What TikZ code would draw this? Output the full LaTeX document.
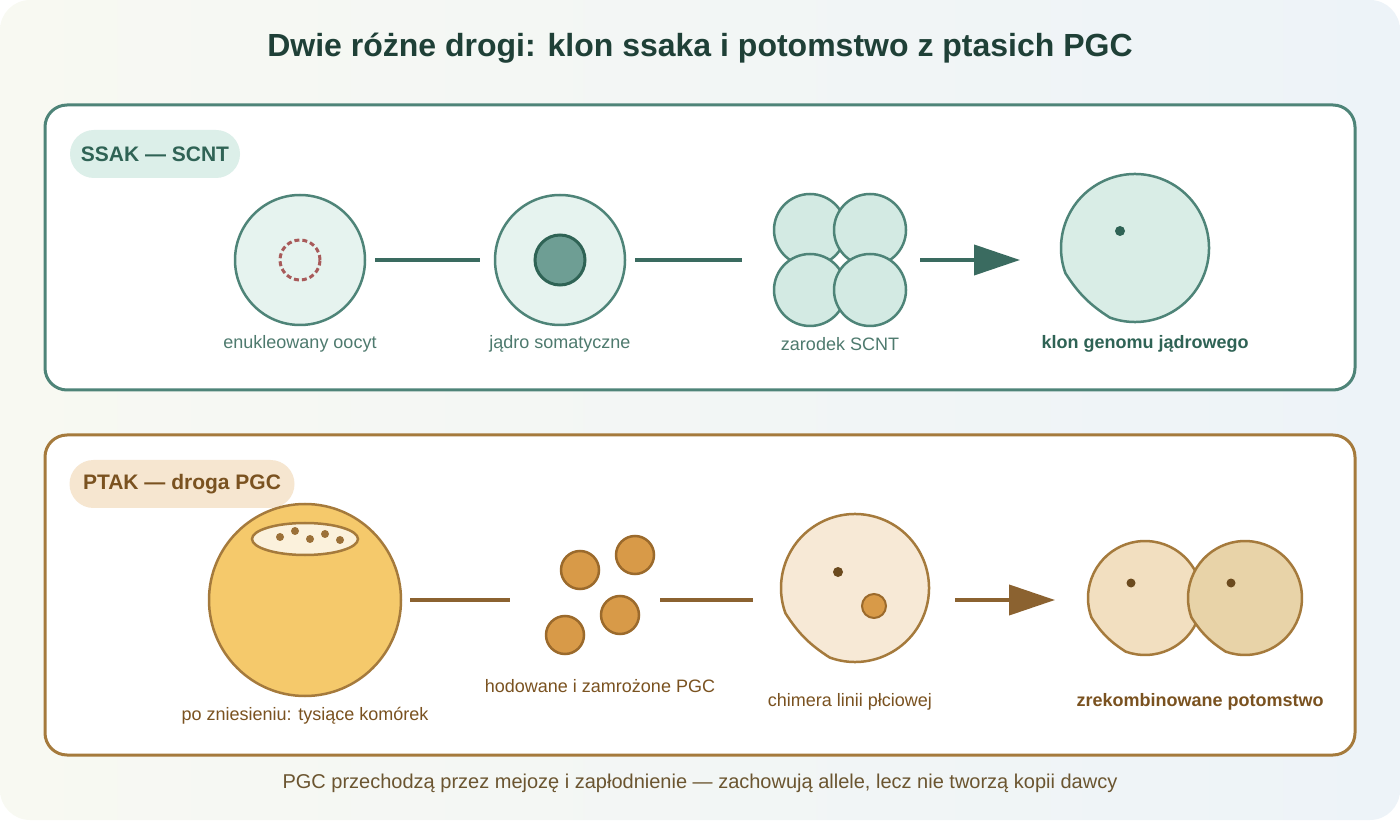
\documentclass[tikz,border=0pt]{standalone}
\usepackage{fontspec}
\setmainfont{Liberation Sans}
\usetikzlibrary{arrows.meta}
\definecolor{gstroke}{HTML}{4E8478}
\definecolor{gdark}{HTML}{2F6355}
\definecolor{gline}{HTML}{3A6B60}
\definecolor{bstroke}{HTML}{A57A3C}
\definecolor{bdark}{HTML}{7A5220}
\definecolor{bline}{HTML}{8B6230}
\definecolor{titlec}{HTML}{1F4037}
\definecolor{bgl}{HTML}{F8F9F2}
\definecolor{bgr}{HTML}{EDF3F8}
\definecolor{gpill}{HTML}{DCEFE9}
\definecolor{gfill}{HTML}{E6F3EF}
\definecolor{gnuc}{HTML}{6E9E94}
\definecolor{gemb}{HTML}{D3EAE3}
\definecolor{gclone}{HTML}{D9EDE6}
\definecolor{redd}{HTML}{A85A5A}
\definecolor{bpill}{HTML}{F6E6D0}
\definecolor{yolk}{HTML}{F5C96B}
\definecolor{disc}{HTML}{FBF1DC}
\definecolor{ddot}{HTML}{9B7038}
\definecolor{pgc}{HTML}{D89A48}
\definecolor{pgcs}{HTML}{9B6A2C}
\definecolor{chim}{HTML}{F7E9D6}
\definecolor{bdot}{HTML}{6B4A1E}
\definecolor{off1}{HTML}{F2DFC0}
\definecolor{off2}{HTML}{E8D3A8}
\definecolor{capc}{HTML}{6B5530}
\begin{document}
\begin{tikzpicture}[x=1pt,y=1pt,
  lbl/.style={font=\fontsize{18}{20}\selectfont},
  gcell/.style={fill=#1,draw=gstroke,line width=2.5pt},
  bcell/.style={fill=#1,draw=bstroke,line width=2.5pt},
  conn/.style={line width=4pt},
  arr/.style={line width=4pt,-{Triangle[length=46pt,width=30pt]}},
  pill/.style={rounded corners=24pt,minimum height=48pt,inner xsep=8pt,font=\fontsize{21}{24}\selectfont\bfseries}]
\useasboundingbox (0,0) rectangle (1400,820);
\shade[left color=bgl,right color=bgr,rounded corners=30pt] (0,0) rectangle (1400,820);
\node[font=\fontsize{32}{36}\selectfont\bfseries,text=titlec] (title) at (700,772) {Dwie różne drogi: klon ssaka i potomstwo z ptasich PGC};
% top panel
\draw[fill=white,draw=gstroke,line width=3pt,rounded corners=22pt] (45,430) rectangle (1355,715);
\node[pill,fill=gpill,text=gdark,minimum width=170pt] (p1) at (155,666) {SSAK — SCNT};
\node[circle,gcell=gfill,minimum size=130pt] (c1) at (300,560) {};
\draw[draw=redd,line width=3pt,dash pattern=on 5pt off 3pt] (300,560) circle (20);
\node[circle,gcell=gfill,minimum size=130pt] (c2) at (560,560) {};
\node[circle,fill=gnuc,draw=gdark,line width=3pt,minimum size=50pt] (n2) at (560,560) {};
\coordinate (l1a) at (375,560); \coordinate (l1b) at (480,560);
\coordinate (l2a) at (635,560); \coordinate (l2b) at (742,560);
\draw[conn,gline] (l1a) -- (l1b);
\draw[conn,gline] (l2a) -- (l2b);
\foreach \x/\y [count=\i] in {810/590,870/590,810/530,870/530}
  \node[circle,gcell=gemb,minimum size=72pt] (e\i) at (\x,\y) {};
\coordinate (a1a) at (920,560); \coordinate (a1b) at (1020,560);
\draw[arr,gline] (a1a) -- (a1b);
\draw[gcell=gclone] (1135,572) ++(250:74) arc[start angle=250,end angle=560,radius=74] to[bend right=12] cycle;
\fill[gdark] (1120,589) circle (5);
\node[lbl,text=gdark!85] (t1) at (300,476) {enukleowany oocyt};
\node[lbl,text=gdark!85] (t2) at (560,476) {jądro somatyczne};
\node[lbl,text=gdark!85] (t3) at (840,476) {zarodek SCNT};
\node[lbl,font=\fontsize{18}{20}\selectfont\bfseries,text=gdark] (t4) at (1145,476) {klon genomu jądrowego};
% bottom panel
\draw[fill=white,draw=bstroke,line width=3pt,rounded corners=22pt] (45,65) rectangle (1355,385);
\node[pill,fill=bpill,text=bdark,minimum width=225pt] (p2) at (182,336) {PTAK — droga PGC};
\node[circle,bcell=yolk,minimum size=192pt] (egg) at (305,220) {};
\draw[fill=disc,draw=bstroke,line width=2.5pt] (305,281) ellipse (53 and 16);
\foreach \x/\y in {280/283,295/289,310/281,325/286,340/280} \fill[ddot] (\x,\y) circle (4);
\coordinate (l3a) at (410,220); \coordinate (l3b) at (510,220);
\coordinate (l4a) at (660,220); \coordinate (l4b) at (753,220);
\draw[conn,bline] (l3a) -- (l3b);
\draw[conn,bline] (l4a) -- (l4b);
\foreach \x/\y [count=\i] in {580/250,635/265,620/205,565/185}
  \node[circle,fill=pgc,draw=pgcs,line width=2.5pt,minimum size=38pt] (g\i) at (\x,\y) {};
\draw[bcell=chim] (855,232) ++(250:74) arc[start angle=250,end angle=560,radius=74] to[bend right=12] cycle;
\fill[bdot] (838,248) circle (5);
\node[circle,fill=pgc,draw=pgcs,line width=2pt,minimum size=24pt] (pg) at (874,214) {};
\coordinate (a2a) at (955,220); \coordinate (a2b) at (1055,220);
\draw[arr,bline] (a2a) -- (a2b);
\draw[bcell=off1] (1145,222) ++(250:57) arc[start angle=250,end angle=560,radius=57] to[bend right=12] cycle;
\draw[bcell=off2] (1245,222) ++(250:57) arc[start angle=250,end angle=560,radius=57] to[bend right=12] cycle;
\fill[bdot] (1131,237) circle (4.5);
\fill[bdot] (1231,237) circle (4.5);
\node[lbl,text=bdark] (u1) at (305,104) {po zniesieniu: tysiące komórek};
\node[lbl,text=bdark] (u2) at (600,134) {hodowane i zamrożone PGC};
\node[lbl,text=bdark] (u3) at (850,118) {chimera linii płciowej};
\node[lbl,font=\fontsize{18}{20}\selectfont\bfseries,text=bdark] (u4) at (1200,118) {zrekombinowane potomstwo};
\node[font=\fontsize{20}{24}\selectfont,text=capc] (cap) at (700,37) {PGC przechodzą przez mejozę i zapłodnienie — zachowują allele, lecz nie tworzą kopii dawcy};
\end{tikzpicture}
\end{document}
